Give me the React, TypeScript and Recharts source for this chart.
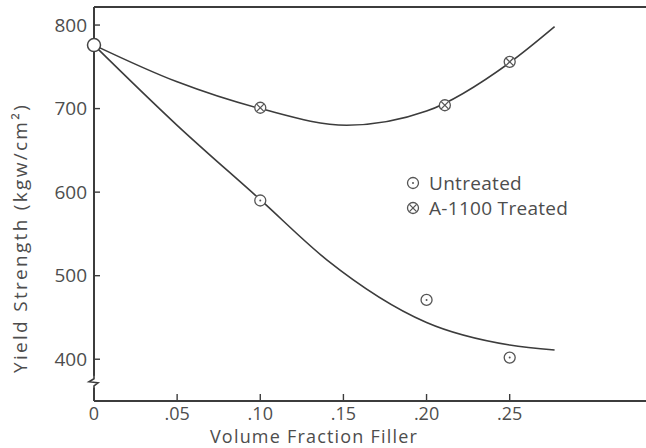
import React from "react";
import {
  ComposedChart,
  Line,
  Scatter,
  XAxis,
  YAxis,
  Legend,
  ReferenceDot,
  ReferenceLine,
} from "recharts";

// measured points
const untreatedX = [0.1, 0.2, 0.25];
const untreatedY = [590, 471, 402];
const treatedX = [0.1, 0.211, 0.25];
const treatedY = [701, 704, 756];
const originX = [0];
const originY = [776];

// fitted curves
const untreatedFitX = [0, 0.05, 0.1, 0.14, 0.2, 0.25, 0.277];
const untreatedFitY = [776, 680, 591, 519, 444, 417, 411];
const treatedFitX = [0, 0.05, 0.1, 0.152, 0.2, 0.25, 0.277];
const treatedFitY = [776, 732, 700, 680, 697, 755, 798];

const xTicks = [0, 0.05, 0.1, 0.15, 0.2, 0.25];
const xTickLabels = ["0", ".05", ".10", ".15", ".20", ".25"];
const yTicks = [400, 500, 600, 700, 800];

const INK = "#3c3c3c";
const TEXT = "#4d4d4d";
const FONT = "'Open Sans', sans-serif";

// the frame runs off the right edge of the picture, so the plot is a bit wider than the window
const X_MAX = 0.3416;
const Y_MIN = 350;
const Y_MAX = 821.6;

const zip = (xs: number[], ys: number[]) => xs.map((x, i) => ({ x, y: ys[i] }));

const untreated = zip(untreatedX, untreatedY);
const treated = zip(treatedX, treatedY);
const origin = zip(originX, originY);
const untreatedFit = zip(untreatedFitX, untreatedFitY);
const treatedFit = zip(treatedFitX, treatedFitY);

function DotCircle({ cx, cy }: any) {
  return (
    <g>
      <circle cx={cx} cy={cy} r={5.5} fill="#fff" stroke="#555" strokeWidth={1.3} />
      <circle cx={cx} cy={cy} r={1} fill="#555" />
    </g>
  );
}

function CrossCircle({ cx, cy }: any) {
  const d = 3.6;
  return (
    <g stroke="#555" strokeWidth={1.3}>
      <circle cx={cx} cy={cy} r={5.5} fill="#fff" />
      <line x1={cx - d} y1={cy - d} x2={cx + d} y2={cy + d} />
      <line x1={cx - d} y1={cy + d} x2={cx + d} y2={cy - d} />
    </g>
  );
}

function OpenCircle({ cx, cy }: any) {
  return <circle cx={cx} cy={cy} r={6.5} fill="#fff" stroke="#444" strokeWidth={1.5} />;
}

function AxisBreak({ cx, cy }: any) {
  return (
    <g>
      <rect x={cx - 3} y={cy - 6} width={6} height={12} fill="#fff" />
      <path
        d={`M${cx} ${cy - 7} L${cx} ${cy - 3} L${cx - 5} ${cy} L${cx + 4} ${cy + 1} L${cx} ${cy + 4} L${cx} ${cy + 7}`}
        fill="none"
        stroke={INK}
        strokeWidth={1.6}
      />
    </g>
  );
}

function YTick({ x, y, payload }: any) {
  return (
    <g>
      <line x1={x + 7} y1={y} x2={x + 13} y2={y} stroke={INK} strokeWidth={1.4} />
      <text x={x} y={y} dy="0.35em" textAnchor="end" fill={TEXT} fontSize={19} fontFamily={FONT}>
        {payload.value}
      </text>
    </g>
  );
}

function XTick({ x, y, payload }: any) {
  const i = xTicks.indexOf(payload.value);
  if (i < 0) return <g />;
  return (
    <g>
      {i > 0 ? <line x1={x} y1={y - 3} x2={x} y2={y - 10} stroke={INK} strokeWidth={1.4} /> : null}
      <text x={x} y={y + 10} dy="0.35em" textAnchor="middle" fill={TEXT} fontSize={18} fontFamily={FONT}>
        {xTickLabels[i]}
      </text>
    </g>
  );
}

function LegendBox() {
  const row = (sym: React.ReactNode, label: string) => (
    <div style={{ display: "flex", alignItems: "center", height: 25 }}>
      <svg width={22} height={20}>
        {sym}
      </svg>
      <span style={{ color: TEXT, fontSize: 19, fontFamily: FONT, marginLeft: 3, letterSpacing: 0.3 }}>{label}</span>
    </div>
  );
  return (
    <div>
      {row(<DotCircle cx={9} cy={10} />, "Untreated")}
      {row(<CrossCircle cx={9} cy={10} />, "A-1100 Treated")}
    </div>
  );
}

const titleStyle: React.CSSProperties = {
  position: "absolute",
  color: TEXT,
  fontFamily: FONT,
  textAlign: "center",
  whiteSpace: "nowrap",
  lineHeight: "20px",
  height: 20,
};

export default function App() {
  return (
    <div style={{ position: "absolute", left: 0, top: 0, width: 646, height: 448, overflow: "hidden", background: "#fff" }}>
      <ComposedChart width={662} height={448} margin={{ top: 7, right: 0, left: 0, bottom: 0 }}>
        <XAxis
          dataKey="x"
          type="number"
          domain={[0, X_MAX]}
          ticks={xTicks}
          height={47}
          tickSize={0}
          tickMargin={3}
          tickLine={false}
          tick={<XTick />}
          axisLine={{ stroke: INK, strokeWidth: 2 }}
        />
        <YAxis
          dataKey="y"
          type="number"
          domain={[Y_MIN, Y_MAX]}
          ticks={yTicks}
          width={94}
          tickSize={0}
          tickMargin={7}
          tickLine={false}
          tick={<YTick />}
          axisLine={{ stroke: INK, strokeWidth: 2 }}
        />
        <ReferenceLine y={Y_MAX} stroke={INK} strokeWidth={2} />
        <ReferenceDot x={0} y={373} r={0} shape={<AxisBreak />} ifOverflow="visible" />
        <Line data={untreatedFit} dataKey="y" type="monotone" stroke={INK} strokeWidth={1.6} dot={false} activeDot={false} isAnimationActive={false} legendType="none" />
        <Line data={treatedFit} dataKey="y" type="monotone" stroke={INK} strokeWidth={1.6} dot={false} activeDot={false} isAnimationActive={false} legendType="none" />
        <Scatter data={untreated} dataKey="y" shape={<DotCircle />} isAnimationActive={false} name="Untreated" />
        <Scatter data={treated} dataKey="y" shape={<CrossCircle />} isAnimationActive={false} name="A-1100 Treated" />
        <Scatter data={origin} dataKey="y" shape={<OpenCircle />} isAnimationActive={false} legendType="none" />
        <Legend
          layout="vertical"
          align="center"
          verticalAlign="middle"
          content={<LegendBox />}
          wrapperStyle={{ left: 404, top: 170, width: 220, height: 50 }}
        />
      </ComposedChart>
      <div style={{ ...titleStyle, left: 164, top: 426, width: 300, fontSize: 18, letterSpacing: 1.2 }}>
        Volume Fraction Filler
      </div>
      <div
        style={{
          ...titleStyle,
          left: -140,
          top: 228,
          width: 320,
          fontSize: 19,
          letterSpacing: 2.3,
          transform: "rotate(-90deg)",
          transformOrigin: "center center",
        }}
      >
        Yield Strength (kgw/cm²)
      </div>
    </div>
  );
}
